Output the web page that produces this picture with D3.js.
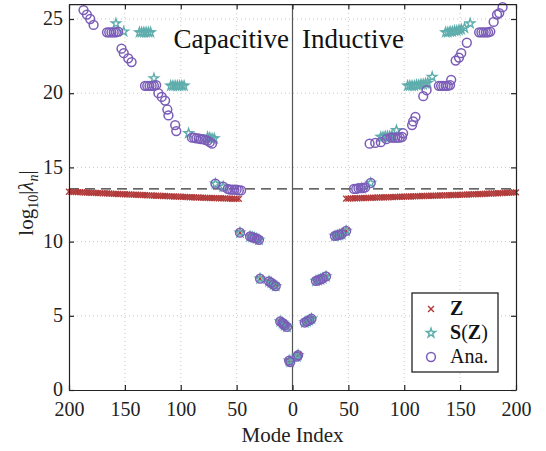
<!DOCTYPE html>
<html><head><meta charset="utf-8">
<script src="https://cdn.jsdelivr.net/npm/d3@7/dist/d3.min.js"></script>
<style>
body{margin:0;background:#fff;}
svg{display:block;font-family:"Liberation Serif","Times New Roman",serif;}
</style></head><body>
<svg id="chart" width="546" height="451"></svg>
<script>
// ---------- data ----------
const xTicks = [-200,-150,-100,-50,0,50,100,150,200];
const xTickLabels = ["200","150","100","50","0","50","100","150","200"];
const yTicks = [0,5,10,15,20,25];
const threshold = 13.55;

// low-order modes: Z, S(Z) and the analytic values coincide  [mode index, log10|lambda|]
const lowModes = [
  [-47,10.6],[-38,10.35],[-36,10.3],[-34,10.25],[-32,10.2],[-30,10.12],
  [-29,7.5],[-21,7.32],[-19,7.22],[-17,7.1],[-15,7.0],
  [-11,4.62],[-9,4.52],[-8,4.45],[-7,4.35],[-5,4.25],
  [-3,1.98],[-2,1.88],
  [4,2.25],[5,2.35],
  [11,4.55],[13,4.62],[15,4.7],[17,4.8],
  [21,7.35],[23,7.4],[25,7.45],[27,7.52],[30,7.65],
  [38,10.38],[40,10.42],[42,10.46],[44,10.5],[48,10.72]
];

// Z: saturated tail values
const zTailLeftModes = d3.range(-200, -47, 2);
const zTailLeftValues = [13.36,13.35,13.35,13.34,13.33,13.33,13.32,13.31,13.31,13.30,
  13.29,13.29,13.28,13.27,13.27,13.26,13.25,13.25,13.24,13.23,13.22,13.22,13.21,13.20,
  13.20,13.19,13.18,13.18,13.17,13.16,13.16,13.15,13.14,13.14,13.13,13.12,13.11,13.11,
  13.10,13.09,13.09,13.08,13.07,13.07,13.06,13.05,13.05,13.04,13.03,13.03,13.02,13.01,
  13.01,13.00,12.99,12.99,12.98,12.97,12.97,12.96,12.96,12.95,12.95,12.94,12.94,12.93,
  12.93,12.92,12.92,12.91,12.91,12.90,12.90,12.89,12.89,12.88,12.88];
const zTailRightModes = d3.range(48, 201, 2);
const zTailRightValues = [12.90,12.90,12.91,12.91,12.92,12.92,12.93,12.93,12.94,12.94,
  12.95,12.95,12.96,12.96,12.97,12.97,12.98,12.98,12.99,12.99,13.00,13.00,13.01,13.01,
  13.02,13.02,13.03,13.03,13.04,13.04,13.05,13.05,13.06,13.06,13.07,13.07,13.08,13.08,
  13.09,13.09,13.10,13.10,13.11,13.11,13.12,13.12,13.13,13.13,13.14,13.14,13.15,13.15,
  13.16,13.17,13.17,13.18,13.18,13.19,13.20,13.20,13.21,13.21,13.22,13.23,13.23,13.24,
  13.25,13.25,13.26,13.27,13.27,13.28,13.29,13.30,13.30,13.31,13.32];

// S(Z): values above the low-order modes
const szModes = [
  [-158,24.7],[-151,24.15],[-137,24.1],[-135,24.1],[-133,24.1],[-131,24.1],[-129,24.1],[-127,24.1],
  [-124,21.0],[-109,20.5],[-107,20.5],[-105,20.5],[-103,20.5],[-101,20.5],[-99,20.5],[-97,20.5],
  [-93,17.3],[-76,17.05],[-74,17.0],[-72,16.95],[-70,16.95],
  [-69,13.9],[-62,13.7],
  [62,13.6],[70,13.95],
  [79,17.05],[81,17.05],[83,17.1],[85,17.1],[87,17.1],[89,17.15],[93,17.5],
  [103,20.5],[105,20.5],[107,20.5],[109,20.5],[111,20.55],[113,20.55],[115,20.6],[117,20.6],
  [119,20.65],[121,20.7],[125,21.1],
  [137,24.1],[139,24.1],[141,24.15],[143,24.15],[145,24.2],[147,24.2],[149,24.25],[151,24.3],
  [154,24.4],[159,24.7]
];

// Analytic: values above the low-order modes
const anaModes = [
  [-187,25.6],[-184,25.3],[-181,25.0],[-178,24.6],
  [-166,24.1],[-164,24.1],[-162,24.1],[-160,24.1],[-158,24.1],[-156,24.15],
  [-153,23.0],[-151,22.7],[-147,22.35],[-144,22.1],
  [-132,20.5],[-130,20.5],[-128,20.5],[-126,20.5],[-124,20.5],[-122,20.55],
  [-120,20.0],[-117,19.75],[-114,19.5],[-112,18.9],[-111,18.5],[-105,17.85],[-104,17.45],
  [-90,17.0],[-88,17.0],[-86,16.95],[-84,16.95],[-82,16.9],[-80,16.9],[-78,16.85],[-76,16.8],
  [-74,16.7],[-72,16.6],
  [-69,13.9],[-62,13.7],
  [-58,13.55],[-56,13.5],[-54,13.5],[-52,13.5],[-50,13.5],[-48,13.45],[-46,13.45],
  [55,13.55],[57,13.55],[59,13.6],[61,13.6],[63,13.6],[65,13.65],[70,13.95],
  [69,16.6],[74,16.65],[79,16.7],[84,16.9],[88,17.0],[90,17.0],[92,17.0],[94,17.0],
  [96,17.0],[98,17.05],[99,17.3],
  [107,17.85],[108,18.1],[110,18.4],[117,19.8],[120,20.2],
  [131,20.5],[133,20.5],[135,20.5],[137,20.5],[139,20.5],[141,20.55],[142,20.9],
  [146,22.2],[149,22.4],[151,22.7],[156,23.4],
  [167,24.1],[169,24.1],[171,24.1],[173,24.1],[175,24.1],[177,24.15],
  [180,24.8],[183,25.3],[185,25.4],[188,25.8]
];

const seriesNames = ["Z","S(Z)","Ana."];
const colors = {z:"#b23a3a", sz:"#5fadad", ana:"#7b5cb8"};

// ---------- chart ----------
const svg = d3.select("#chart");
const x = d3.scaleLinear().domain([-200,200]).range([69,516]);
const y = d3.scaleLinear().domain([0,26]).range([390,4.16]);
const font = '"Liberation Serif","Times New Roman",serif';

// grid
const g = svg.append("g");
g.selectAll(".gx").data(xTicks.filter(d=>d!==-200&&d!==200&&d!==0)).join("line")
  .attr("x1",d=>x(d)).attr("x2",d=>x(d)).attr("y1",y(0)).attr("y2",y(26))
  .attr("stroke","#c8c8c8").attr("stroke-width",1).attr("stroke-dasharray","1,3");
g.selectAll(".gy").data(yTicks.filter(d=>d>0)).join("line")
  .attr("x1",x(-200)).attr("x2",x(200)).attr("y1",d=>y(d)).attr("y2",d=>y(d))
  .attr("stroke","#c8c8c8").attr("stroke-width",1).attr("stroke-dasharray","1,3");

// centre line and threshold
svg.append("line").attr("x1",x(0)).attr("x2",x(0)).attr("y1",y(0)).attr("y2",y(26))
  .attr("stroke","#555").attr("stroke-width",1.2);
svg.append("line").attr("x1",x(-200)).attr("x2",x(200)).attr("y1",y(threshold)).attr("y2",y(threshold))
  .attr("stroke","#333").attr("stroke-width",1.3).attr("stroke-dasharray","10,6");

// region labels
svg.append("text").attr("x",289).attr("y",48).attr("text-anchor","end")
  .attr("font-size",27).attr("font-family",font).attr("fill","#111").text("Capacitive");
svg.append("text").attr("x",302).attr("y",48).attr("text-anchor","start")
  .attr("font-size",27).attr("font-family",font).attr("fill","#111").text("Inductive");

// data points
const zPts = lowModes.concat(
  zTailLeftModes.map((n,i)=>[n,zTailLeftValues[i]]),
  zTailRightModes.map((n,i)=>[n,zTailRightValues[i]]));
const szPts = lowModes.concat(szModes);
const anaPts = lowModes.concat(anaModes);

const xSym = d3.symbol().type(d3.symbolX).size(24);
const starSym = d3.symbol().type(d3.symbolStar).size(26);

svg.append("g").selectAll("path").data(zPts).join("path")
  .attr("d",xSym).attr("transform",d=>`translate(${x(d[0])},${y(d[1])})`)
  .attr("fill","none").attr("stroke",colors.z).attr("stroke-width",1.4);
svg.append("g").selectAll("path").data(szPts).join("path")
  .attr("d",starSym).attr("transform",d=>`translate(${x(d[0])},${y(d[1])})`)
  .attr("fill","none").attr("stroke",colors.sz).attr("stroke-width",1.4);
svg.append("g").selectAll("circle").data(anaPts).join("circle")
  .attr("cx",d=>x(d[0])).attr("cy",d=>y(d[1])).attr("r",4.4)
  .attr("fill","none").attr("stroke",colors.ana).attr("stroke-width",1.5);

// axes
function styleAxis(sel){
  sel.attr("font-family",font).attr("font-size",20);
  sel.selectAll("path.domain").attr("stroke","#222").attr("stroke-width",1.2);
  sel.selectAll(".tick line").attr("stroke","#222").attr("stroke-width",1.2);
  sel.selectAll("text").attr("font-family",font).attr("font-size",20).attr("fill","#222");
}
svg.append("g").attr("transform",`translate(0,${y(0)})`)
  .call(d3.axisBottom(x).tickValues(xTicks).tickFormat((d,i)=>xTickLabels[i])
    .tickSizeInner(-5).tickSizeOuter(0).tickPadding(14)).call(styleAxis)
  .selectAll("text").attr("dy","0.62em");
svg.append("g").attr("transform",`translate(0,${y(26)})`)
  .call(d3.axisTop(x).tickValues(xTicks).tickFormat("")
    .tickSizeInner(-5).tickSizeOuter(0)).call(styleAxis);
svg.append("g").attr("transform",`translate(${x(-200)},0)`)
  .call(d3.axisLeft(y).tickValues(yTicks).tickFormat(d3.format("d"))
    .tickSizeInner(-5).tickSizeOuter(0).tickPadding(6)).call(styleAxis)
  .selectAll("text").attr("dy","0.28em");
svg.append("g").attr("transform",`translate(${x(200)},0)`)
  .call(d3.axisRight(y).tickValues(yTicks).tickFormat("")
    .tickSizeInner(-5).tickSizeOuter(0)).call(styleAxis);

// axis titles
svg.append("text").attr("x",x(0)).attr("y",442).attr("text-anchor","middle")
  .attr("font-family",font).attr("font-size",21).attr("fill","#222").text("Mode Index");
const yl = svg.append("text").attr("transform","translate(33,203) rotate(-90)")
  .attr("text-anchor","middle").attr("font-family",font).attr("font-size",21).attr("fill","#222");
yl.append("tspan").text("log");
yl.append("tspan").attr("font-size",14).attr("dy",5).text("10");
yl.append("tspan").attr("dy",-5).text("|");
yl.append("tspan").attr("font-style","italic").text("λ");
yl.append("tspan").attr("font-size",14).attr("font-style","italic").attr("dy",5).text("n");
yl.append("tspan").attr("dy",-5).text("|");

// legend
const lg = svg.append("g");
lg.append("rect").attr("x",412).attr("y",293).attr("width",86).attr("height",79)
  .attr("fill","#fff").attr("stroke","#222").attr("stroke-width",1.3);
const ly = [309,333,357];
lg.append("path").attr("d",xSym).attr("transform",`translate(431,${ly[0]})`)
  .attr("fill","none").attr("stroke",colors.z).attr("stroke-width",1.4);
lg.append("path").attr("d",starSym).attr("transform",`translate(431,${ly[1]})`)
  .attr("fill","none").attr("stroke",colors.sz).attr("stroke-width",1.4);
lg.append("circle").attr("cx",431).attr("cy",ly[2]).attr("r",4.4)
  .attr("fill","none").attr("stroke",colors.ana).attr("stroke-width",1.5);
const t0 = lg.append("text").attr("x",450).attr("y",ly[0]+6).attr("font-family",font).attr("font-size",20).attr("fill","#111");
t0.append("tspan").attr("font-weight","bold").text(seriesNames[0]);
const t1 = lg.append("text").attr("x",450).attr("y",ly[1]+6).attr("font-family",font).attr("font-size",20).attr("fill","#111");
t1.append("tspan").attr("font-weight","bold").text("S");
t1.append("tspan").text("(");
t1.append("tspan").attr("font-weight","bold").text("Z");
t1.append("tspan").text(")");
lg.append("text").attr("x",450).attr("y",ly[2]+6).attr("font-family",font).attr("font-size",20).attr("fill","#111").text(seriesNames[2]);
</script>
</body></html>
